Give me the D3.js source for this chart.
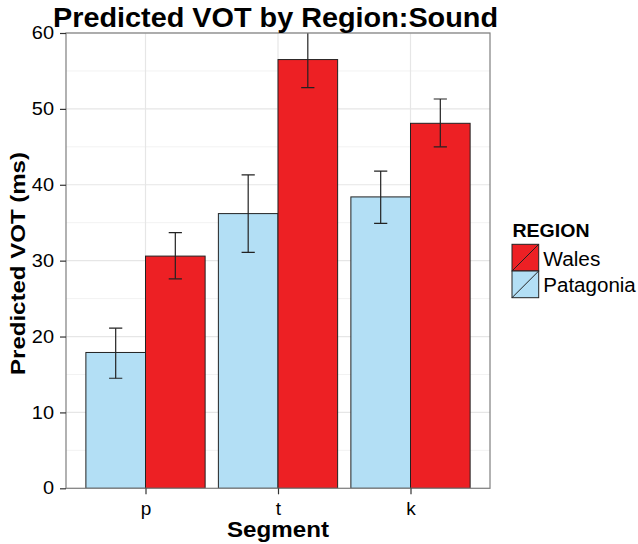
<!DOCTYPE html>
<html><head><meta charset="utf-8">
<script src="https://cdn.jsdelivr.net/npm/d3@7"></script>
<style>body{margin:0;background:#fff}text{font-family:"Liberation Sans",Arial,Helvetica,sans-serif}</style>
</head><body><svg id="c" width="638" height="544"></svg>
<script>
const segments = ["p","t","k"];
const regions = ["Patagonia","Wales"];
const legendOrder = ["Wales","Patagonia"];
const patagoniaVOT = [17.9, 36.2, 38.4];
const patagoniaLow = [14.5, 31.1, 34.9];
const patagoniaHigh = [21.1, 41.3, 41.8];
const walesVOT = [30.6, 56.5, 48.1];
const walesLow = [27.6, 52.8, 45.0];
const walesHigh = [33.7, 60.2, 51.3];
const yTicks = [0,10,20,30,40,50,60];
const colors = {Wales:"#ED2024", Patagonia:"#B3DFF5"};

const data = [];
segments.forEach((s,i)=>{
  data.push({seg:s, region:"Patagonia", v:patagoniaVOT[i], lo:patagoniaLow[i], hi:patagoniaHigh[i]});
  data.push({seg:s, region:"Wales", v:walesVOT[i], lo:walesLow[i], hi:walesHigh[i]});
});

const svg = d3.select("#c");
const L=66, R=490, T=33, B=488.3;
const y = d3.scaleLinear().domain([0,60]).range([B,T]);
const step = (R-L)/3.2;
const xc = d3.scalePoint().domain(segments).range([L+0.6*step, R-0.6*step]);
const xs = d3.scaleBand().domain(regions).range([-0.45*step, 0.45*step]).padding(0);

// minor grid
const minor = d3.range(5,60,10);
svg.append("g").selectAll("line").data(minor).join("line")
  .attr("x1",L).attr("x2",R).attr("y1",d=>y(d)).attr("y2",d=>y(d))
  .attr("stroke","#f2f2f2").attr("stroke-width",1);
svg.append("g").selectAll("line").data(yTicks).join("line")
  .attr("x1",L).attr("x2",R).attr("y1",d=>y(d)).attr("y2",d=>y(d))
  .attr("stroke","#e6e6e6").attr("stroke-width",1.2);
svg.append("g").selectAll("line").data(segments).join("line")
  .attr("x1",d=>xc(d)).attr("x2",d=>xc(d)).attr("y1",T).attr("y2",B)
  .attr("stroke","#e6e6e6").attr("stroke-width",1.2);

svg.append("defs").append("clipPath").attr("id","pc").append("rect")
  .attr("x",L).attr("y",T).attr("width",R-L).attr("height",B-T);

const g = svg.append("g").attr("clip-path","url(#pc)");
g.selectAll("rect.bar").data(data).join("rect").attr("class","bar")
  .attr("x",d=>xc(d.seg)+xs(d.region)).attr("width",xs.bandwidth())
  .attr("y",d=>y(d.v)).attr("height",d=>y(0)-y(d.v))
  .attr("fill",d=>colors[d.region]).attr("stroke","#222").attr("stroke-width",1);

const eb = g.selectAll("g.eb").data(data).join("g").attr("class","eb")
  .attr("stroke","#222").attr("stroke-width",1.2);
const cx = d=>xc(d.seg)+xs(d.region)+xs.bandwidth()/2;
eb.append("line").attr("x1",cx).attr("x2",cx)
  .attr("y1",d=>y(d.lo)).attr("y2",d=>y(d.hi));
["lo","hi"].forEach(k=>{
  eb.append("line").attr("x1",d=>cx(d)-6.6).attr("x2",d=>cx(d)+6.6)
    .attr("y1",d=>y(d[k])).attr("y2",d=>y(d[k]));
});

// panel border
svg.append("rect").attr("x",L).attr("y",T).attr("width",R-L).attr("height",B-T)
  .attr("fill","none").attr("stroke","#7f7f7f").attr("stroke-width",1.2);

// y axis
const ya = svg.append("g").attr("transform",`translate(${L},0)`)
  .call(d3.axisLeft(y).tickValues(yTicks).tickSize(6).tickPadding(6));
ya.select(".domain").remove();
ya.selectAll(".tick line").attr("stroke","#333").attr("stroke-width",1.2);
ya.selectAll("text").attr("font-size",17.5).attr("fill","#000").attr("font-family","Liberation Sans, Arial")
  .attr("textLength",d=>String(d).length*11.1).attr("lengthAdjust","spacingAndGlyphs");

// x axis
const xa = svg.append("g").attr("transform",`translate(0,${B})`)
  .call(d3.axisBottom(xc).tickSize(6).tickPadding(7));
xa.select(".domain").remove();
xa.selectAll(".tick line").attr("stroke","#333").attr("stroke-width",1.2);
xa.selectAll("text").attr("font-size",19).attr("fill","#000").attr("font-family","Liberation Sans, Arial");

// titles
svg.append("text").attr("x",(L+R)/2 - 2.5).attr("y",27).attr("text-anchor","middle")
  .attr("font-size",28).attr("font-weight","bold")
  .attr("textLength",445).attr("lengthAdjust","spacingAndGlyphs").text("Predicted VOT by Region:Sound");
svg.append("text").attr("x",278).attr("y",537).attr("text-anchor","middle")
  .attr("font-size",21.5).attr("font-weight","bold")
  .attr("textLength",102).attr("lengthAdjust","spacingAndGlyphs").text("Segment");
svg.append("text").attr("transform",`translate(24.5,263.5) rotate(-90)`).attr("text-anchor","middle")
  .attr("font-size",21).attr("font-weight","bold")
  .attr("textLength",223).attr("lengthAdjust","spacingAndGlyphs").text("Predicted VOT (ms)");

// legend
const lg = svg.append("g").attr("transform","translate(512,0)");
lg.append("text").attr("x",0.5).attr("y",237.3).attr("font-size",17.5).attr("font-weight","bold")
  .attr("textLength",77).attr("lengthAdjust","spacingAndGlyphs").text("REGION");
const items = lg.selectAll("g.it").data(legendOrder).join("g").attr("class","it")
  .attr("transform",(d,i)=>`translate(0,${244.3+i*26.7})`);
items.append("rect").attr("width",26.7).attr("height",26.7).attr("fill",d=>colors[d]).attr("stroke","#222").attr("stroke-width",1);
items.append("line").attr("x1",0).attr("y1",26.7).attr("x2",26.7).attr("y2",0).attr("stroke","#222").attr("stroke-width",1);
const labelW = {Wales:57, Patagonia:92.5};
items.append("text").attr("x",31.3).attr("y",21.3).attr("font-size",19.5)
  .attr("textLength",d=>labelW[d]).attr("lengthAdjust","spacingAndGlyphs").text(d=>d);
</script></body></html>
